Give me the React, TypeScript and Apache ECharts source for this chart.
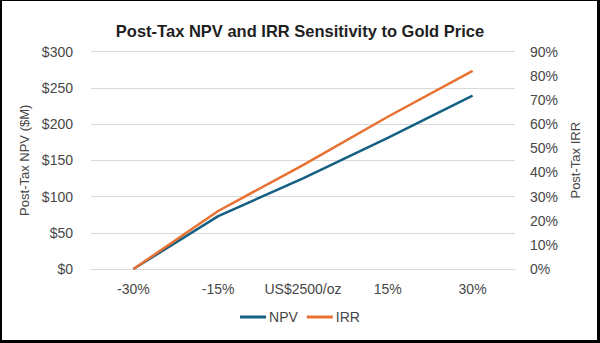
import React, { useEffect, useRef } from "react";
import * as echarts from "echarts";

const categories = ["-30%", "-15%", "US$2500/oz", "15%", "30%"];
const npvValues = [0, 73, 125, 181, 239];
const irrValues = [0, 24, 43, 63, 82];
const npvTicks = { min: 0, max: 300, interval: 50 };
const irrTicks = { min: 0, max: 90, interval: 10 };

const FONT = "Liberation Sans, Arial, sans-serif";
const LABEL = "#474747";

export default function App() {
  const ref = useRef<HTMLDivElement>(null);
  useEffect(() => {
    if (!ref.current) return;
    const chart = echarts.init(ref.current, null, { renderer: "svg" });
    chart.setOption({
      animation: false,
      backgroundColor: "#ffffff",
      textStyle: { fontFamily: FONT },
      title: {
        text: "Post-Tax NPV and IRR Sensitivity to Gold Price",
        left: "center",
        top: 17,
        textStyle: { fontFamily: FONT, fontSize: 16.5, fontWeight: "bold", color: "#1f1f1f" },
      },
      legend: {
        bottom: 14,
        left: "center",
        itemWidth: 26,
        itemHeight: 3,
        itemGap: 9,
        icon: "rect",
        data: ["NPV", "IRR"],
        textStyle: { fontFamily: FONT, fontSize: 14, color: LABEL, padding: [0, 0, 0, -2] },
      },
      grid: { left: 91, right: 85, top: 51.5, bottom: 74, containLabel: false, outerBoundsMode: "none" },
      xAxis: {
        type: "category",
        data: categories,
        boundaryGap: true,
        axisTick: { show: false },
        axisLine: { show: true, lineStyle: { color: "#D9D9D9", width: 1 } },
        axisLabel: { fontFamily: FONT, fontSize: 14, color: LABEL, margin: 13, interval: 0 },
      },
      yAxis: [
        {
          type: "value",
          ...npvTicks,
          name: "Post-Tax NPV ($M)",
          nameLocation: "middle",
          nameGap: 57,
          nameRotate: 90,
          nameTextStyle: { fontFamily: FONT, fontSize: 13, color: LABEL },
          axisLabel: { fontFamily: FONT, fontSize: 14, color: LABEL, margin: 18, formatter: (v: number) => "$" + v },
          splitLine: { lineStyle: { color: "#D9D9D9", width: 1 } },
          axisLine: { show: false },
          axisTick: { show: false },
        },
        {
          type: "value",
          ...irrTicks,
          name: "Post-Tax IRR",
          nameLocation: "middle",
          nameGap: 48,
          nameRotate: 90,
          nameTextStyle: { fontFamily: FONT, fontSize: 13, color: LABEL },
          axisLabel: { fontFamily: FONT, fontSize: 14, color: LABEL, margin: 15, formatter: (v: number) => v + "%" },
          splitLine: { show: false },
          axisLine: { show: false },
          axisTick: { show: false },
        },
      ],
      series: [
        {
          name: "NPV",
          type: "line",
          yAxisIndex: 0,
          data: npvValues,
          showSymbol: false,
          symbol: "none",
          lineStyle: { color: "#156082", width: 2.5 },
          itemStyle: { color: "#156082" },
        },
        {
          name: "IRR",
          type: "line",
          yAxisIndex: 1,
          data: irrValues,
          showSymbol: false,
          symbol: "none",
          lineStyle: { color: "#E97132", width: 2.5 },
          itemStyle: { color: "#E97132" },
        },
      ],
      graphic: [
        { type: "rect", shape: { x: 0, y: 0, width: 2, height: 343 }, style: { fill: "#000" }, silent: true },
        { type: "rect", shape: { x: 0, y: 0, width: 600, height: 1 }, style: { fill: "#000" }, silent: true },
        { type: "rect", shape: { x: 597, y: 0, width: 3, height: 343 }, style: { fill: "#000" }, silent: true },
        { type: "rect", shape: { x: 0, y: 340, width: 600, height: 3 }, style: { fill: "#000" }, silent: true },
      ],
    });
    return () => chart.dispose();
  }, []);
  return (
    <div style={{ position: "fixed", left: 0, top: 0, width: 600, height: 343 }}>
      <div ref={ref} style={{ width: 600, height: 343 }} />
    </div>
  );
}
